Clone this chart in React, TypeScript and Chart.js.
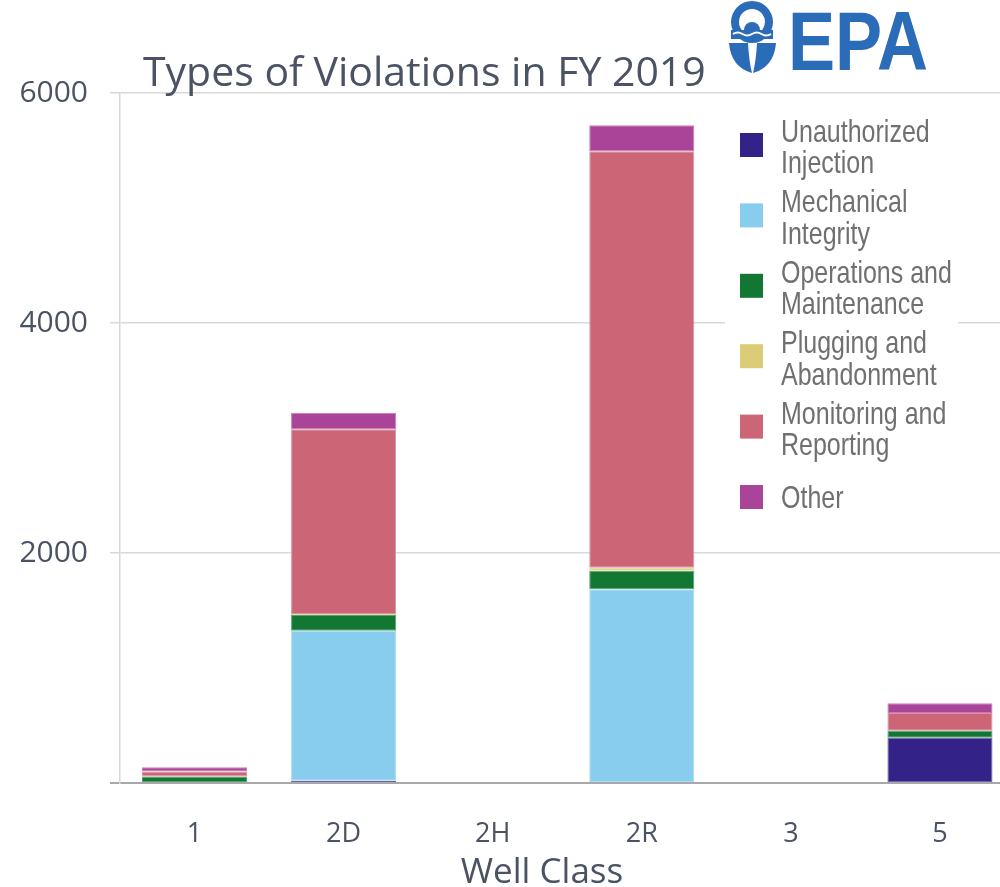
import React, { useEffect, useRef } from "react";
import { Chart, registerables } from "chart.js";

Chart.register(...registerables);

// ---- data ----
const categories = ["1", "2D", "2H", "2R", "3", "5"];
const seriesNames = [
  "Unauthorized Injection",
  "Mechanical Integrity",
  "Operations and Maintenance",
  "Plugging and Abandonment",
  "Monitoring and Reporting",
  "Other",
];
const legendLines = [
  ["Unauthorized", "Injection"],
  ["Mechanical", "Integrity"],
  ["Operations and", "Maintenance"],
  ["Plugging and", "Abandonment"],
  ["Monitoring and", "Reporting"],
  ["Other"],
];
const unauthorizedInjection = [0, 20, 0, 0, 0, 394];
const mechanicalIntegrity = [0, 1304, 0, 1684, 0, 0];
const operationsMaintenance = [57, 137, 0, 162, 0, 61];
const pluggingAbandonment = [0, 9, 0, 26, 0, 0];
const monitoringReporting = [43, 1606, 0, 3621, 0, 154];
const otherViolations = [38, 144, 0, 226, 0, 84];
const seriesValues = [
  unauthorizedInjection,
  mechanicalIntegrity,
  operationsMaintenance,
  pluggingAbandonment,
  monitoringReporting,
  otherViolations,
];
const seriesColors = ["#332288", "#88CCEE", "#117733", "#DDCC77", "#CC6677", "#AA4499"];
const yTickValues = [0, 2000, 4000, 6000];
const chartTitle = "Types of Violations in FY 2019";
const xAxisTitle = "Well Class";

const TEXT = "#4b5263";
const FONT = "'Open Sans', 'Liberation Sans', sans-serif";
const EPA_BLUE = "#2b6cb8";

function lighten(hex: string, amt: number) {
  const n = parseInt(hex.slice(1), 16);
  const r = (n >> 16) & 255, g = (n >> 8) & 255, b = n & 255;
  const m = (c: number) => Math.round(c + (255 - c) * amt);
  return `rgb(${m(r)},${m(g)},${m(b)})`;
}

export default function App() {
  const ref = useRef<HTMLCanvasElement>(null);

  useEffect(() => {
    const chart = new Chart(ref.current!, {
      type: "bar",
      data: {
        labels: categories,
        datasets: seriesValues.map((vals, i) => ({
          label: seriesNames[i],
          data: vals,
          backgroundColor: seriesColors[i],
          borderColor: lighten(seriesColors[i], 0.3),
          borderWidth: (c: any) => (c.raw ? 1 : 0),
          borderSkipped: false,
          barPercentage: 0.705,
          categoryPercentage: 1,
          stack: "s",
        })),
      },
      options: {
        responsive: false,
        animation: false,
        layout: { padding: { top: 93, right: 1.5, left: 0, bottom: 0 } },
        plugins: {
          legend: { display: false },
          title: { display: false },
          tooltip: { enabled: false },
        },
        scales: {
          x: {
            stacked: true,
            grid: { display: false },
            border: { display: true, color: "#a8a8a8", width: 2 },
            ticks: {
              color: TEXT,
              font: { family: FONT, size: 27 },
              padding: 27,
              maxRotation: 0,
              autoSkip: false,
            },
            afterFit: (s: any) => {
              s.height = 104;
            },
          },
          y: {
            stacked: true,
            min: 0,
            max: 6000,
            afterBuildTicks: (s: any) => {
              s.ticks = yTickValues.map((v) => ({ value: v }));
            },
            ticks: {
              color: TEXT,
              font: { family: FONT, size: 30 },
              padding: 22,
              callback: (v: any) => (v === 0 ? "" : String(v)),
            },
            grid: {
              color: (c: any) => (c.tick && c.tick.value === 0 ? "#a8a8a8" : "#d9d9d9"),
              lineWidth: (c: any) => (c.tick && c.tick.value === 0 ? 2 : 1.5),
              tickLength: 10,
            },
            border: { display: true, color: "#d9d9d9", width: 1.5 },
            afterFit: (s: any) => {
              s.width = 120;
            },
          },
        },
      },
    } as any);
    return () => chart.destroy();
  }, []);

  return (
    <div
      style={{
        position: "absolute",
        left: 0,
        top: 0,
        width: 1000,
        height: 887,
        overflow: "hidden",
        background: "#fff",
      }}
    >
      <canvas ref={ref} width={1016} height={887} style={{ position: "absolute", left: 0, top: 0 }} />
      <svg
        width={1000}
        height={887}
        style={{ position: "absolute", left: 0, top: 0, pointerEvents: "none" }}
      >
        {/* title */}
        <text x={143} y={86} fill={TEXT} fontFamily={FONT} fontSize={41}>
          {chartTitle}
        </text>
        {/* x axis title */}
        <text x={542} y={883} fill={TEXT} fontFamily={FONT} fontSize={35} textAnchor="middle">
          {xAxisTitle}
        </text>
        {/* EPA logo */}
        <g fill={EPA_BLUE}>
          <circle cx={752} cy={22} r={21} />
          <circle cx={752} cy={22} r={13} fill="#fff" />
          <path d="M744 30 A8 8 0 0 1 760 30 Z" />
          <rect x={731} y={30} width={42} height={9} />
          <path d="M733 34 q4.75 -3 9.5 0 t9.5 0 t9.5 0 t9.5 0" stroke="#fff" strokeWidth={2} fill="none" />
          <path d="M729 43 L748 43 Q749 61 752 73 Q731 67 729 43 Z" />
          <path d="M776 43 L757 43 Q756 61 753 73 Q774 67 776 43 Z" />
          <text
            x={788}
            y={70}
            fontFamily="'Liberation Sans', Arial, sans-serif"
            fontWeight="bold"
            fontSize={84}
            textLength={140}
            lengthAdjust="spacingAndGlyphs"
          >
            EPA
          </text>
        </g>
        {/* legend */}
        <rect x={725} y={112} width={233} height={405} fill="#fff" />
        {legendLines.map((lines, i) => {
          const cy = 145 + 70.4 * i;
          const baselines = lines.length === 1 ? [cy + 11] : [cy - 3, cy + 28.5];
          return (
            <g key={i}>
              <rect x={740} y={cy - 12} width={23} height={24} fill={seriesColors[i]} />
              <g transform="translate(781,0) scale(0.82,1)">
                {lines.map((ln, j) => (
                  <text
                    key={j}
                    x={0}
                    y={baselines[j]}
                    fill="#707070"
                    fontFamily="'Liberation Sans', Arial, sans-serif"
                    fontSize={30.5}
                  >
                    {ln}
                  </text>
                ))}
              </g>
            </g>
          );
        })}
      </svg>
    </div>
  );
}
